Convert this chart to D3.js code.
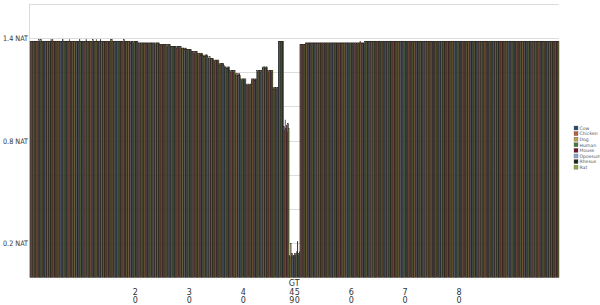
<!DOCTYPE html>
<html>
<head>
<meta charset="utf-8">
<script src="https://cdn.jsdelivr.net/npm/d3@7"></script>
<style>
  body { margin: 0; background: #fff; }
  svg text { font-family: "DejaVu Sans", sans-serif; }
</style>
</head>
<body>
<div id="chart"></div>
<script>
// species in legend order
var species = ["Cow", "Chicken", "Dog", "Human", "Mouse", "Opossum", "Rhesus", "Rat"];
var speciesColors = ["#2b4a70", "#b8603e", "#bca24e", "#4a7a3a", "#6a1a30", "#8aaad0", "#1a2a1a", "#90a840"];

// alignment positions 1..98
var positions = d3.range(1, 99);

// labelled positions on the x axis
var labelPositions = [20, 30, 40, 49, 50, 60, 70, 80];
var labelTexts = ["20", "30", "40", "G49", "T50", "60", "70", "80"];

// y ticks (gridlines every 0.2, label on some)
var yTicks = [0.2, 0.4, 0.6, 0.8, 1.0, 1.2, 1.4, 1.6];
var yLabelled = [0.2, 0.8, 1.4];

// entropy per position for each species
var cow = [1.38,1.38,1.39,1.38,1.38,1.38,1.39,1.38,1.38,1.38,1.38,1.38,1.38,1.39,1.38,1.38,1.38,1.38,1.38,1.38,
  1.37,1.37,1.37,1.37,1.36,1.36,1.35,1.35,1.34,1.33,
  1.32,1.31,1.30,1.28,1.27,1.25,1.23,1.21,1.19,1.16,
  1.13,1.16,1.21,1.23,1.21,1.11,1.38,0.88,0.13,0.14,
  1.36,1.37,1.37,1.37,1.37,1.37,1.37,1.37,1.37,1.37,
  1.37,1.37,1.38,1.38,1.38,1.38,1.38,1.38,1.38,1.38,
  1.38,1.38,1.38,1.38,1.38,1.38,1.38,1.38,1.38,1.38,
  1.38,1.38,1.38,1.38,1.38,1.38,1.38,1.38,1.38,1.38,
  1.38,1.38,1.38,1.38,1.38,1.38,1.38,1.38];
var chicken = [1.38,1.38,1.38,1.38,1.39,1.38,1.38,1.38,1.38,1.39,1.38,1.38,1.38,1.38,1.38,1.39,1.38,1.38,1.38,1.37,
  1.37,1.37,1.37,1.36,1.36,1.36,1.35,1.34,1.34,1.33,
  1.32,1.30,1.29,1.28,1.26,1.24,1.23,1.20,1.18,1.15,
  1.12,1.15,1.20,1.22,1.20,1.10,1.38,0.86,0.12,0.13,
  1.36,1.37,1.37,1.37,1.37,1.37,1.37,1.37,1.37,1.37,
  1.37,1.38,1.38,1.38,1.38,1.38,1.38,1.38,1.38,1.38,
  1.38,1.38,1.38,1.38,1.38,1.38,1.38,1.38,1.38,1.38,
  1.38,1.38,1.38,1.38,1.38,1.38,1.38,1.38,1.38,1.38,
  1.38,1.38,1.38,1.38,1.38,1.38,1.38,1.38];
var dog = [1.38,1.38,1.38,1.38,1.38,1.38,1.38,1.39,1.38,1.38,1.38,1.38,1.39,1.38,1.38,1.38,1.38,1.38,1.38,1.38,
  1.37,1.37,1.37,1.37,1.36,1.36,1.35,1.35,1.34,1.33,
  1.32,1.31,1.30,1.29,1.27,1.25,1.23,1.21,1.19,1.16,
  1.13,1.16,1.21,1.23,1.21,1.11,1.38,0.92,0.20,0.14,
  1.36,1.37,1.37,1.37,1.37,1.37,1.37,1.37,1.37,1.37,
  1.37,1.37,1.38,1.38,1.38,1.38,1.38,1.38,1.38,1.38,
  1.38,1.38,1.38,1.38,1.38,1.38,1.38,1.38,1.38,1.38,
  1.38,1.38,1.38,1.38,1.38,1.38,1.38,1.38,1.38,1.38,
  1.38,1.38,1.38,1.38,1.38,1.38,1.38,1.38];
var human = [1.38,1.38,1.38,1.38,1.38,1.38,1.38,1.38,1.38,1.38,1.39,1.38,1.38,1.38,1.38,1.38,1.38,1.39,1.38,1.38,
  1.37,1.37,1.37,1.37,1.36,1.35,1.35,1.35,1.34,1.33,
  1.31,1.31,1.29,1.28,1.27,1.25,1.22,1.21,1.18,1.16,
  1.12,1.16,1.21,1.23,1.21,1.11,1.38,0.87,0.13,0.15,
  1.36,1.37,1.37,1.37,1.37,1.37,1.37,1.37,1.37,1.37,
  1.37,1.37,1.38,1.38,1.38,1.38,1.38,1.38,1.38,1.38,
  1.38,1.38,1.38,1.38,1.38,1.38,1.38,1.38,1.38,1.38,
  1.38,1.38,1.38,1.38,1.38,1.38,1.38,1.38,1.38,1.38,
  1.38,1.38,1.38,1.38,1.38,1.38,1.38,1.38];
var mouse = [1.38,1.38,1.38,1.38,1.38,1.38,1.38,1.38,1.38,1.38,1.38,1.38,1.38,1.38,1.38,1.38,1.38,1.38,1.38,1.38,
  1.37,1.37,1.37,1.37,1.36,1.36,1.35,1.35,1.34,1.33,
  1.32,1.31,1.30,1.28,1.27,1.25,1.23,1.21,1.19,1.16,
  1.13,1.16,1.21,1.23,1.21,1.11,1.38,0.89,0.14,0.21,
  1.36,1.37,1.37,1.37,1.37,1.37,1.37,1.37,1.37,1.37,
  1.37,1.37,1.38,1.38,1.38,1.38,1.38,1.38,1.38,1.38,
  1.38,1.38,1.38,1.38,1.38,1.38,1.38,1.38,1.38,1.38,
  1.38,1.38,1.38,1.38,1.38,1.38,1.38,1.38,1.38,1.38,
  1.38,1.38,1.38,1.38,1.38,1.38,1.38,1.38];
var opossum = [1.38,1.39,1.38,1.38,1.38,1.38,1.38,1.38,1.38,1.38,1.38,1.39,1.38,1.38,1.38,1.38,1.38,1.38,1.37,1.38,
  1.37,1.37,1.36,1.37,1.36,1.36,1.35,1.34,1.33,1.33,
  1.32,1.30,1.30,1.28,1.26,1.25,1.22,1.20,1.18,1.15,
  1.12,1.15,1.20,1.22,1.20,1.10,1.38,0.85,0.12,0.13,
  1.36,1.37,1.37,1.37,1.37,1.37,1.37,1.37,1.37,1.37,
  1.37,1.37,1.38,1.38,1.38,1.38,1.38,1.38,1.38,1.38,
  1.38,1.38,1.38,1.38,1.38,1.38,1.38,1.38,1.38,1.38,
  1.38,1.38,1.38,1.38,1.38,1.38,1.38,1.38,1.38,1.38,
  1.38,1.38,1.38,1.38,1.38,1.38,1.38,1.38];
var rhesus = [1.38,1.38,1.38,1.38,1.38,1.38,1.38,1.38,1.38,1.38,1.38,1.38,1.38,1.38,1.38,1.38,1.38,1.38,1.38,1.38,
  1.37,1.37,1.37,1.37,1.36,1.36,1.35,1.35,1.34,1.33,
  1.32,1.31,1.30,1.28,1.27,1.25,1.23,1.21,1.19,1.16,
  1.13,1.16,1.21,1.23,1.21,1.11,1.38,0.90,0.13,0.14,
  1.36,1.37,1.37,1.37,1.37,1.37,1.37,1.37,1.37,1.37,
  1.37,1.37,1.38,1.38,1.38,1.38,1.38,1.38,1.38,1.38,
  1.38,1.38,1.38,1.38,1.38,1.38,1.38,1.38,1.38,1.38,
  1.38,1.38,1.38,1.38,1.38,1.38,1.38,1.38,1.38,1.38,
  1.38,1.38,1.38,1.38,1.38,1.38,1.38,1.38];
var rat = [1.38,1.38,1.38,1.39,1.38,1.38,1.38,1.38,1.38,1.38,1.38,1.38,1.38,1.38,1.39,1.38,1.38,1.38,1.38,1.38,
  1.37,1.36,1.37,1.37,1.36,1.36,1.35,1.35,1.34,1.32,
  1.32,1.31,1.29,1.28,1.27,1.24,1.23,1.21,1.18,1.16,
  1.13,1.16,1.21,1.23,1.21,1.11,1.38,0.87,0.13,0.15,
  1.36,1.37,1.37,1.37,1.37,1.37,1.37,1.37,1.37,1.37,
  1.37,1.37,1.38,1.38,1.38,1.38,1.38,1.38,1.38,1.38,
  1.38,1.38,1.38,1.38,1.38,1.38,1.38,1.38,1.38,1.38,
  1.38,1.38,1.38,1.38,1.38,1.38,1.38,1.38,1.38,1.38,
  1.38,1.38,1.38,1.38,1.38,1.38,1.38,1.38];

var series = [cow, chicken, dog, human, mouse, opossum, rhesus, rat];

var width = 600;
var height = 305;

var svg = d3.select("#chart")
    .append("svg")
    .attr("width", width)
    .attr("height", height);

var x0 = d3.scaleBand()
    .domain(positions)
    .range([30, 559])
    .padding(0);

var x1 = d3.scaleBand()
    .domain(species)
    .range([0, x0.bandwidth()])
    .padding(0);

var y = d3.scaleLinear()
    .domain([0, 1.6])
    .range([277.5, 3.5]);

// gridlines
svg.append("g")
    .selectAll("line")
    .data(yTicks)
    .enter()
    .append("line")
    .attr("x1", 30)
    .attr("x2", 559)
    .attr("y1", function (d) { return Math.round(y(d)) + 0.5; })
    .attr("y2", function (d) { return Math.round(y(d)) + 0.5; })
    .attr("stroke", "#dcdcdc")
    .attr("stroke-width", 1);

// left frame
svg.append("line")
    .attr("x1", 29.5).attr("x2", 29.5)
    .attr("y1", y(1.6)).attr("y2", y(0))
    .attr("stroke", "#dcdcdc");

// y labels
svg.append("g")
    .selectAll("text")
    .data(yLabelled)
    .enter()
    .append("text")
    .attr("x", 28)
    .attr("y", function (d) { return y(d) + 3; })
    .attr("text-anchor", "end")
    .attr("font-size", "7.5px")
    .attr("textLength", 25)
    .attr("lengthAdjust", "spacingAndGlyphs")
    .attr("fill", "#333")
    .text(function (d) { return d.toFixed(1) + " NAT"; });

// bars
var rows = positions.map(function (p, i) {
    return { pos: p, vals: series.map(function (s) { return s[i]; }) };
});

var groups = svg.append("g")
    .selectAll("g")
    .data(rows)
    .enter()
    .append("g")
    .attr("transform", function (d) { return "translate(" + x0(d.pos) + ",0)"; });

groups.selectAll("rect")
    .data(function (d) {
        return d.vals.map(function (v, j) { return { sp: species[j], v: v, c: speciesColors[j] }; });
    })
    .enter()
    .append("rect")
    .attr("x", function (d) { return x1(d.sp); })
    .attr("width", x1.bandwidth())
    .attr("y", function (d) { return y(d.v); })
    .attr("height", function (d) { return y(0) - y(d.v); })
    .attr("fill", function (d) { return d.c; })
    .attr("stroke", "#1c1412")
    .attr("stroke-width", 0.38);

// small ticks under each position
svg.append("g")
    .selectAll("line")
    .data(positions)
    .enter()
    .append("line")
    .attr("x1", function (d) { return x0(d) + x0.bandwidth() / 2; })
    .attr("x2", function (d) { return x0(d) + x0.bandwidth() / 2; })
    .attr("y1", y(0))
    .attr("y2", y(0) + 2)
    .attr("stroke", "#e4e4e4")
    .attr("stroke-width", 0.6);

// x labels, characters stacked vertically and bottom aligned
labelPositions.forEach(function (p, i) {
    var chars = labelTexts[i].split("");
    var cx = x0(p) + x0.bandwidth() / 2;
    chars.forEach(function (ch, k) {
        svg.append("text")
            .attr("x", cx)
            .attr("y", 303 - (chars.length - 1 - k) * 8.5)
            .attr("text-anchor", "middle")
            .attr("font-size", "8px")
            .attr("fill", "#333")
            .text(ch);
    });
});

// legend
var legend = svg.append("g")
    .selectAll("g")
    .data(species)
    .enter()
    .append("g")
    .attr("transform", function (d, i) { return "translate(574," + (126 + i * 5.6) + ")"; });

legend.append("rect")
    .attr("width", 4)
    .attr("height", 4)
    .attr("fill", function (d, i) { return speciesColors[i]; })
    .attr("stroke", "#555")
    .attr("stroke-width", 0.3);

legend.append("text")
    .attr("x", 5.5)
    .attr("y", 3.8)
    .attr("font-size", "4.6px")
    .attr("fill", "#555")
    .text(function (d) { return d; });
</script>
</body>
</html>
